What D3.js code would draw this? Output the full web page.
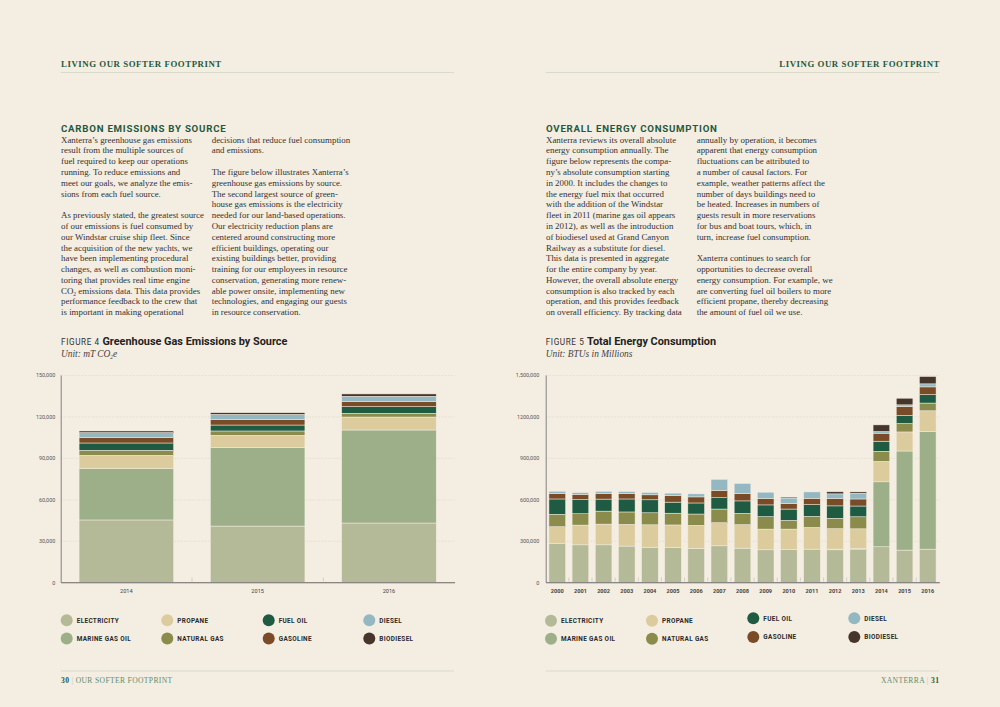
<!DOCTYPE html>
<html>
<head>
<meta charset="utf-8">
<script src="https://cdn.jsdelivr.net/npm/d3@7"></script>
<style>
  html, body { margin: 0; padding: 0; background: #f4ede1; }
  svg { display: block; }
</style>
</head>
<body>
<svg id="page"></svg>
<script>
// ---- data ----
let seriesNames = ["ELECTRICITY", "MARINE GAS OIL", "PROPANE", "NATURAL GAS", "FUEL OIL", "GASOLINE", "DIESEL", "BIODIESEL"];
let seriesKeys = ["electricity", "marineGasOil", "propane", "naturalGas", "fuelOil", "gasoline", "diesel", "biodiesel"];
let seriesColors = ["#b4b997", "#9caf88", "#dccb9d", "#8b8b4b", "#1f5a43", "#7a4b27", "#93b8c1", "#46352a"];

// figure 4 - mT CO2e
let ghgYears = ["2014", "2015", "2016"];
let ghgElectricity = [45100, 40700, 42900];
let ghgMarineGasOil = [37100, 57000, 67300];
let ghgPropane = [9700, 8700, 9400];
let ghgNaturalGas = [3600, 3100, 2700];
let ghgFuelOil = [5300, 4300, 4800];
let ghgGasoline = [3800, 4100, 3600];
let ghgDiesel = [3700, 3600, 3900];
let ghgBiodiesel = [1200, 1200, 1700];
let ghgTicks = [0, 30000, 60000, 90000, 120000, 150000];
let ghgTickLabels = ["0", "30,000", "60,000", "90,000", "120,000", "150,000"];

// figure 5 - BTUs in millions
let energyYears = ["2000", "2001", "2002", "2003", "2004", "2005", "2006", "2007", "2008", "2009", "2010", "2011", "2012", "2013", "2014", "2015", "2016"];
let energyElectricity = [283000, 271000, 271000, 262000, 254000, 250000, 245000, 264000, 247000, 235000, 237000, 240000, 235000, 237000, 257000, 233000, 240000];
let energyMarineGasOil = [0, 0, 0, 0, 0, 0, 0, 0, 0, 0, 0, 0, 5000, 7000, 470000, 717000, 853000];
let energyPropane = [119000, 143000, 150000, 157000, 162000, 165000, 167000, 167000, 170000, 150000, 148000, 157000, 148000, 143000, 148000, 138000, 148000];
let energyNaturalGas = [90000, 82000, 94000, 90000, 87000, 85000, 82000, 99000, 82000, 90000, 63000, 80000, 75000, 87000, 73000, 61000, 56000];
let energyFuelOil = [111000, 102000, 87000, 94000, 94000, 80000, 80000, 82000, 90000, 85000, 82000, 85000, 90000, 78000, 73000, 58000, 61000];
let energyGasoline = [39000, 39000, 39000, 39000, 36000, 48000, 44000, 53000, 53000, 46000, 39000, 46000, 53000, 51000, 58000, 65000, 56000];
let energyDiesel = [17000, 12000, 17000, 15000, 17000, 17000, 22000, 80000, 73000, 46000, 41000, 46000, 34000, 41000, 12000, 12000, 22000];
let energyBiodiesel = [0, 0, 0, 0, 0, 0, 0, 0, 0, 0, 7000, 0, 15000, 10000, 48000, 48000, 53000];
let energyTicks = [0, 300000, 600000, 900000, 1200000, 1500000];
let energyTickLabels = ["0", "300,000", "600,000", "900,000", "1200,000", "1,500,000"];

// ---- text ----
let leftCol1 = [
  "Xanterra’s greenhouse gas emissions",
  "result from the multiple sources of",
  "fuel required to keep our operations",
  "running. To reduce emissions and",
  "meet our goals, we analyze the emis-",
  "sions from each fuel source.",
  "",
  "As previously stated, the greatest source",
  "of our emissions is fuel consumed by",
  "our Windstar cruise ship fleet. Since",
  "the acquisition of the new yachts, we",
  "have been implementing procedural",
  "changes, as well as combustion moni-",
  "toring that provides real time engine",
  "CO|2| emissions data. This data provides",
  "performance feedback to the crew that",
  "is important in making operational"
];
let leftCol2 = [
  "decisions that reduce fuel consumption",
  "and emissions.",
  "",
  "The figure below illustrates Xanterra’s",
  "greenhouse gas emissions by source.",
  "The second largest source of green-",
  "house gas emissions is the electricity",
  "needed for our land-based operations.",
  "Our electricity reduction plans are",
  "centered around constructing more",
  "efficient buildings, operating our",
  "existing buildings better, providing",
  "training for our employees in resource",
  "conservation, generating more renew-",
  "able power onsite, implementing new",
  "technologies, and engaging our guests",
  "in resource conservation."
];
let rightCol1 = [
  "Xanterra reviews its overall absolute",
  "energy consumption annually. The",
  "figure below represents the compa-",
  "ny’s absolute consumption starting",
  "in 2000. It includes the changes to",
  "the energy fuel mix that occurred",
  "with the addition of the Windstar",
  "fleet in 2011 (marine gas oil appears",
  "in 2012), as well as the introduction",
  "of biodiesel used at Grand Canyon",
  "Railway as a substitute for diesel.",
  "This data is presented in aggregate",
  "for the entire company by year.",
  "However, the overall absolute energy",
  "consumption is also tracked by each",
  "operation, and this provides feedback",
  "on overall efficiency. By tracking data"
];
let rightCol2 = [
  "annually by operation, it becomes",
  "apparent that energy consumption",
  "fluctuations can be attributed to",
  "a number of causal factors. For",
  "example, weather patterns affect the",
  "number of days buildings need to",
  "be heated. Increases in numbers of",
  "guests result in more reservations",
  "for bus and boat tours, which, in",
  "turn, increase fuel consumption.",
  "",
  "Xanterra continues to search for",
  "opportunities to decrease overall",
  "energy consumption. For example, we",
  "are converting fuel oil boilers to more",
  "efficient propane, thereby decreasing",
  "the amount of fuel oil we use."
];

let width = 1000;
let height = 707;
let green = "#1f5a3e";
let serif = "'Liberation Serif', serif";
let sans = "Roboto, 'Liberation Sans', sans-serif";

let svg = d3.select("#page").attr("width", width).attr("height", height);

svg.append("rect").attr("width", width).attr("height", height).attr("fill", "#f4ede1");

// ---- page furniture ----
let drawRunningHead = (x, anchor) => {
  svg.append("text")
    .attr("x", x).attr("y", 67)
    .attr("text-anchor", anchor)
    .style("font-family", serif).style("font-weight", "bold")
    .style("font-size", "8.8px").style("letter-spacing", "0.55px")
    .attr("fill", green)
    .text("LIVING OUR SOFTER FOOTPRINT");
};
drawRunningHead(61, "start");
drawRunningHead(940, "end");

[[60.7, 454], [545.7, 939.3]].forEach(([x1, x2]) => {
  svg.append("line").attr("x1", x1).attr("x2", x2).attr("y1", 72.5).attr("y2", 72.5)
    .attr("stroke", "#d7dbc9").attr("stroke-width", 1);
  svg.append("line").attr("x1", x1).attr("x2", x2).attr("y1", 671).attr("y2", 671)
    .attr("stroke", "#d7dbc9").attr("stroke-width", 1);
});

let drawHeading = (x, txt) => {
  svg.append("text")
    .attr("x", x).attr("y", 132)
    .style("font-family", sans).style("font-weight", "bold")
    .style("font-size", "9.7px").style("letter-spacing", "0.75px")
    .attr("fill", green)
    .text(txt);
};
drawHeading(61, "CARBON EMISSIONS BY SOURCE");
drawHeading(546, "OVERALL ENERGY CONSUMPTION");

let drawColumn = (x, lines) => {
  let t = svg.append("text")
    .style("font-family", serif).style("font-size", "8.9px")
    .attr("fill", "#333");
  lines.forEach((line, i) => {
    let y = 142.7 + i * 10.78;
    if (line.indexOf("|") >= 0) {
      let parts = line.split("|");
      t.append("tspan").attr("x", x).attr("y", y).text(parts[0]);
      t.append("tspan").attr("dy", 2).style("font-size", "5.5px").text(parts[1]);
      t.append("tspan").attr("dy", -2).text(parts[2]);
    } else {
      t.append("tspan").attr("x", x).attr("y", y).text(line);
    }
  });
};
drawColumn(61, leftCol1);
drawColumn(211.7, leftCol2);
drawColumn(546, rightCol1);
drawColumn(696.7, rightCol2);

let drawFigureTitle = (x, num, title, unitParts) => {
  let t = svg.append("text").attr("x", x).attr("y", 345).attr("fill", "#222");
  t.append("tspan").style("font-family", sans).style("font-size", "8.2px")
    .style("letter-spacing", "0.6px").attr("fill", "#333").text("FIGURE " + num + " ");
  t.append("tspan").style("font-family", sans).style("font-weight", "bold")
    .style("font-size", "10.9px").text(title);
  let u = svg.append("text").attr("x", x).attr("y", 357)
    .style("font-family", serif).style("font-style", "italic")
    .style("font-size", "9.4px").attr("fill", "#444");
  u.append("tspan").text(unitParts[0]);
  if (unitParts.length > 1) {
    u.append("tspan").attr("dy", 2).style("font-size", "5.5px").text(unitParts[1]);
    u.append("tspan").attr("dy", -2).text(unitParts[2]);
  }
};
drawFigureTitle(61, 4, "Greenhouse Gas Emissions by Source", ["Unit: mT CO", "2", "e"]);
drawFigureTitle(545.7, 5, "Total Energy Consumption", ["Unit: BTUs in Millions"]);

// ---- charts ----
let drawChart = (cfg) => {
  let rows = cfg.categories.map((c, i) => {
    let r = { category: c };
    seriesKeys.forEach((k, j) => { r[k] = cfg.series[j][i]; });
    return r;
  });
  let stacked = d3.stack().keys(seriesKeys)(rows);

  let xScale = d3.scaleBand()
    .domain(cfg.categories)
    .range([cfg.left, cfg.right])
    .paddingInner(0.28)
    .paddingOuter(0.14);

  let yScale = d3.scaleLinear()
    .domain([0, cfg.max])
    .range([582.3, 375]);

  let g = svg.append("g");

  // gridlines
  let grid = g.append("g")
    .attr("transform", "translate(" + cfg.left + ",0)")
    .call(d3.axisLeft(yScale).tickValues(cfg.ticks.slice(1)).tickSize(-(cfg.right - cfg.left)).tickFormat(""));
  grid.select(".domain").remove();
  grid.selectAll("line").attr("stroke", "#ddd8c9").attr("stroke-width", 0.7).attr("stroke-dasharray", "1.5,1.5");

  // bars
  g.append("g").selectAll("g")
    .data(stacked)
    .enter()
    .append("g")
    .attr("fill", (d, i) => seriesColors[i])
    .selectAll("rect")
    .data((d) => d)
    .enter()
    .append("rect")
    .attr("x", (d) => xScale(d.data.category))
    .attr("width", xScale.bandwidth())
    .attr("y", (d) => yScale(d[1]))
    .attr("height", (d) => Math.max(0, yScale(d[0]) - yScale(d[1])))
    .attr("stroke", (d) => (d[1] - d[0]) > 0 ? "#f3eee3" : "none")
    .attr("stroke-width", 0.5);

  // y axis
  let yAxis = g.append("g")
    .attr("transform", "translate(" + cfg.left + ",0)")
    .call(d3.axisLeft(yScale).tickValues(cfg.ticks).tickSize(0).tickPadding(cfg.labelPad)
      .tickFormat((d, i) => cfg.tickLabels[i]));
  yAxis.select(".domain").attr("stroke", "#777").attr("stroke-width", 0.9);
  yAxis.selectAll("text").style("font-family", sans).style("font-size", "5.4px").attr("fill", "#555");

  // x axis
  let xAxis = g.append("g")
    .attr("transform", "translate(0,582.3)")
    .call(d3.axisBottom(xScale).tickSize(0).tickPadding(6.5));
  xAxis.select(".domain").attr("stroke", "#666").attr("stroke-width", 1.1);
  xAxis.selectAll("text").style("font-family", sans).style("font-size", "5.6px")
    .style("font-weight", cfg.boldYears ? "bold" : "normal").attr("fill", "#444");

  // small separators between bands
  g.append("g").selectAll("line")
    .data(cfg.categories.slice(1))
    .enter()
    .append("line")
    .attr("x1", (d) => xScale(d) - xScale.step() * xScale.paddingInner() / 2)
    .attr("x2", (d) => xScale(d) - xScale.step() * xScale.paddingInner() / 2)
    .attr("y1", 577.5).attr("y2", 581.5)
    .attr("stroke", "#ccc8bb").attr("stroke-width", 0.8);
};

drawChart({
  categories: ghgYears,
  series: [ghgElectricity, ghgMarineGasOil, ghgPropane, ghgNaturalGas, ghgFuelOil, ghgGasoline, ghgDiesel, ghgBiodiesel],
  left: 60.7, right: 454.6, max: 150000,
  ticks: ghgTicks, tickLabels: ghgTickLabels, labelPad: 5.5, boldYears: false
});

drawChart({
  categories: energyYears,
  series: [energyElectricity, energyMarineGasOil, energyPropane, energyNaturalGas, energyFuelOil, energyGasoline, energyDiesel, energyBiodiesel],
  left: 545.7, right: 939.3, max: 1500000,
  ticks: energyTicks, tickLabels: energyTickLabels, labelPad: 6.5, boldYears: true
});

// ---- legends ----
let legendOrder = [0, 2, 4, 6, 1, 3, 5, 7];
let drawLegend = (cols, rowsY) => {
  legendOrder.forEach((s, i) => {
    let col = i % 4;
    let row = Math.floor(i / 4);
    let cx = cols[col];
    let cy = rowsY[col][row];
    svg.append("circle").attr("cx", cx).attr("cy", cy).attr("r", 6).attr("fill", seriesColors[s]);
    svg.append("text").attr("x", cx + 10).attr("y", cy).attr("dy", "0.35em")
      .style("font-family", sans).style("font-weight", "bold")
      .style("font-size", "6.4px").style("letter-spacing", "0.35px")
      .attr("fill", "#2a2a2a")
      .text(seriesNames[s]);
  });
};
drawLegend([66.7, 167.3, 268.7, 369.3], [[620.3, 638.5], [620.3, 638.5], [620.3, 638.5], [620.3, 638.5]]);
drawLegend([551, 652, 753.3, 854.3], [[620.7, 638.7], [620.7, 638.7], [618.3, 637], [618.3, 637]]);

// ---- folios ----
let f1 = svg.append("text").attr("x", 61).attr("y", 683)
  .style("font-family", serif).style("font-size", "7.6px").style("letter-spacing", "0.35px");
f1.append("tspan").style("font-weight", "bold").attr("fill", green).text("30");
f1.append("tspan").attr("fill", "#b9c9b9").text(" | ");
f1.append("tspan").attr("fill", "#5f8f6e").text("OUR SOFTER FOOTPRINT");

let f2 = svg.append("text").attr("x", 939.3).attr("y", 683).attr("text-anchor", "end")
  .style("font-family", serif).style("font-size", "7.6px").style("letter-spacing", "0.35px");
f2.append("tspan").attr("fill", "#5f8f6e").text("XANTERRA");
f2.append("tspan").attr("fill", "#b9c9b9").text(" | ");
f2.append("tspan").style("font-weight", "bold").attr("fill", green).text("31");
</script>
</body>
</html>
